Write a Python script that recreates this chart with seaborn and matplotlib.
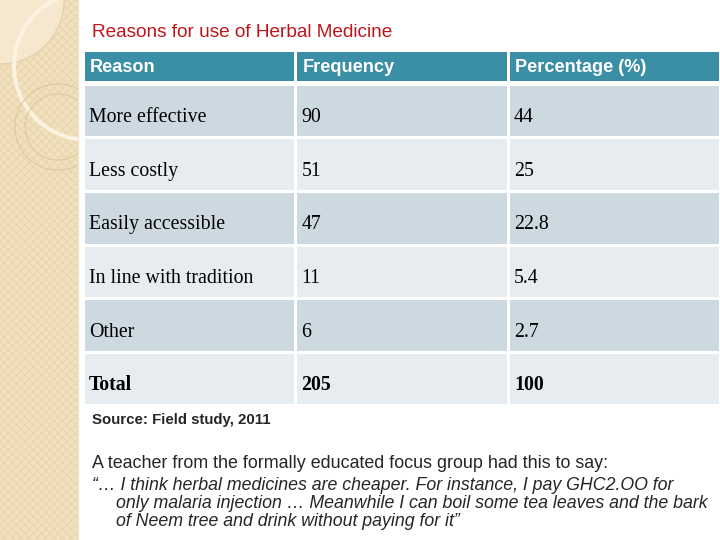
import numpy as np
import matplotlib
matplotlib.use("Agg")
import matplotlib.pyplot as plt
from matplotlib.colors import ListedColormap
from matplotlib.patches import Rectangle, Circle
import seaborn as sns

# table contents
headers = ["Reason", "Frequency", "Percentage (%)"]
reasons = ["More effective", "Less costly", "Easily accessible",
           "In line with tradition", "Other", "Total"]
frequency = [90, 51, 47, 11, 6, 205]
percentage = [44, 25, 22.8, 5.4, 2.7, 100]

title = "Reasons for use of Herbal Medicine"
source = "Source: Field study, 2011"
intro = "A teacher from the formally educated focus group had this to say:"
quote_lines = [
    "\u201c\u2026 I think herbal medicines are cheaper. For instance, I pay GHC2.OO for",
    "only malaria injection \u2026 Meanwhile I can boil some tea leaves and the bark",
    "of Neem tree and drink without paying for it\u201d",
]

HEAD = "#3A8EA5"
DARK = "#CDD9E0"
LIGHT = "#E7ECF0"
BEIGE = "#F2E1BE"

sns.set_theme(style="white")
plt.rcParams["font.family"] = ["Liberation Sans", "DejaVu Sans"]

fig = plt.figure(figsize=(7.2, 5.4), dpi=100)
fig.patch.set_facecolor("white")

# background layer in pixel coordinates
bg = fig.add_axes([0, 0, 1, 1])
bg.set_xlim(0, 720)
bg.set_ylim(540, 0)
bg.axis("off")
side = Rectangle((0, 0), 78, 540, facecolor=BEIGE, edgecolor="none")
bg.add_patch(side)
tex = Rectangle((0, 0), 78, 540, facecolor="none", edgecolor="#EAD7B0",
                hatch="xxxx", linewidth=0)
bg.add_patch(tex)
decor = [
    Circle((0, 0), 64, facecolor="#F5E8CF", edgecolor="#E3CFA6", lw=0.7),
    Circle((88, 66), 74, facecolor="none", edgecolor="#FBF3E2", lw=2.8),
    Circle((58, 127), 43, facecolor="none", edgecolor="#DCC69A", lw=0.7),
    Circle((58, 127), 33, facecolor="none", edgecolor="#DCC69A", lw=0.7),
]
for c in decor:
    bg.add_patch(c)
    c.set_clip_path(side)
bg.plot([78, 78], [0, 540], color="#EFE3CB", lw=1)

bg.text(92, 32.5, title, color="#C0141C", fontsize=13.7, va="center", ha="left")
bg.text(92, 420, source, fontsize=10.8, fontweight="bold", va="center", ha="left")
bg.text(92, 463, intro, fontsize=12.9, va="center", ha="left")
for k, line in enumerate(quote_lines):
    x = 92 if k == 0 else 116
    bg.text(x, 486 + 18 * k, line, fontsize=12.8, style="italic",
            va="center", ha="left")

# header row
axh = fig.add_axes([82.75 / 720, 1 - 82.25 / 540, 637.25 / 720, 32.5 / 540])
sns.heatmap(np.zeros((1, 3)), ax=axh, cmap=ListedColormap([HEAD]), cbar=False,
            linewidths=1.8, linecolor="white", xticklabels=False, yticklabels=False)
for j, h in enumerate(headers):
    axh.text(j + 0.035, 0.68, h, color="white", fontsize=13.1, fontweight="bold",
             va="baseline", ha="left")

# body rows
n = len(reasons)
shade = np.array([[i % 2] * 3 for i in range(n)])
axb = fig.add_axes([82.75 / 720, 1 - 405.25 / 540, 637.25 / 720, 321.5 / 540])
sns.heatmap(shade, ax=axb, cmap=ListedColormap([DARK, LIGHT]), vmin=0, vmax=1,
            cbar=False, linewidths=1.8, linecolor="white",
            xticklabels=False, yticklabels=False)
for i in range(n):
    weight = "bold" if reasons[i] == "Total" else "normal"
    cells = [reasons[i], str(frequency[i]), f"{percentage[i]:g}"]
    for j, txt in enumerate(cells):
        axb.text(j + 0.03, i + 0.72, txt, fontsize=14.3, fontweight=weight,
                 family=["Liberation Serif", "DejaVu Serif"],
                 va="baseline", ha="left", color="black")

fig.savefig("out.png", dpi=100)
